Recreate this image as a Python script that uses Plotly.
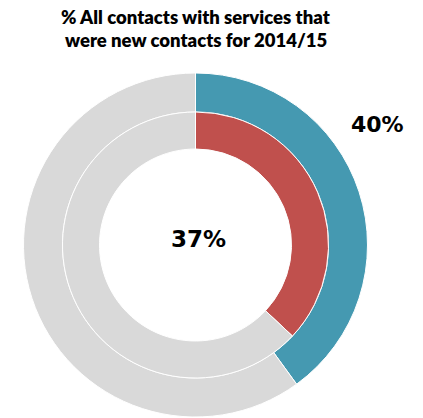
import plotly.graph_objects as go

labels = ['New contacts', 'Other']
outer_values = [40, 60]
inner_values = [37, 63]
outer_colors = ['#4599B1', '#D9D9D9']
inner_colors = ['#C0504D', '#D9D9D9']
title_lines = ['% All contacts with services that', 'were new contacts for 2014/15']
outer_label = '40%'
inner_label = '37%'

W, H = 423, 418

def px_domain(cx, cy, r):
    # pixel centre/radius (from top-left) -> paper domain
    return dict(x=[(cx - r) / W, (cx + r) / W], y=[(H - cy - r) / H, (H - cy + r) / H])

def px_note(text, x, y, font):
    fig.add_annotation(text=text, x=x / W, y=(H - y) / H, xref='paper', yref='paper',
                       xanchor='center', yanchor='middle', showarrow=False, font=font)

fig = go.Figure()
fig.add_trace(go.Pie(
    labels=labels, values=outer_values, hole=133 / 172,
    sort=False, direction='clockwise', rotation=0,
    marker=dict(colors=outer_colors, line=dict(color='white', width=1)),
    textinfo='none', hoverinfo='label+percent',
    domain=px_domain(195.5, 245, 172),
))
fig.add_trace(go.Pie(
    labels=labels, values=inner_values, hole=96 / 133,
    sort=False, direction='clockwise', rotation=0,
    marker=dict(colors=inner_colors, line=dict(color='white', width=1)),
    textinfo='none', hoverinfo='label+percent',
    domain=px_domain(195.5, 245, 133),
))

title_font = dict(family='Lato', size=18.5, color='black', weight=800)
px_note(title_lines[0], 196, 17, title_font)
px_note(title_lines[1], 196, 40, title_font)
px_note('<b>' + outer_label + '</b>', 377, 124, dict(family='DejaVu Sans', size=22, color='black'))
px_note('<b>' + inner_label + '</b>', 198, 239, dict(family='DejaVu Sans', size=23, color='black'))

fig.update_layout(width=W, height=H, margin=dict(l=0, r=0, t=0, b=0),
                  showlegend=False, paper_bgcolor='white', plot_bgcolor='white')
fig.write_html("out.html", config={'displayModeBar': False},
               post_script="document.body.style.margin='0';")
